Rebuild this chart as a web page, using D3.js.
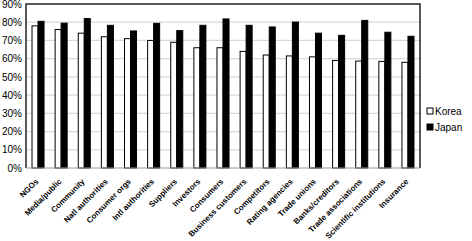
<!DOCTYPE html>
<html lang="en">
<head>
  <meta charset="UTF-8">
  <title>Korea vs Japan</title>
  <style>
    body{ margin:0; background:#fff; }
    .grid-line{ stroke:#d9d9d9; stroke-width:1.2; }
    .y-axis text{ font-family:"Liberation Sans", Arial, sans-serif; font-size:10px; fill:#000; }
    .x-axis text{ font-family:"Liberation Sans", Arial, sans-serif; font-size:8px; font-weight:bold; fill:#000; }
    .legend text{ font-family:"Liberation Sans", Arial, sans-serif; font-size:10px; fill:#000; }
  </style>
</head>
<body>
  <script src="https://cdn.jsdelivr.net/npm/d3@7"></script>
  <script>
    const categories = ['NGOs', 'Media/public', 'Community', 'Natl authorities', 'Consumer orgs',
      'Intl authorities', 'Suppliers', 'Investors', 'Consumers', 'Business customers', 'Competitors',
      'Rating agencies', 'Trade unions', 'Banks/creditors', 'Trade associations',
      'Scientific institutions', 'Insurance'];
    const series = ['Korea', 'Japan'];
    const korea = [78, 76, 74, 72, 71, 70, 69, 66, 66, 64, 62, 61.5, 61, 59, 58.7, 58.5, 58];
    const japan = [80.5, 79.5, 82, 78.3, 75.2, 79.4, 75.4, 78.3, 81.8, 78.3, 77.4, 80.1, 74, 72.8, 81, 74.5, 72.3];
    const yTicks = [0, 10, 20, 30, 40, 50, 60, 70, 80, 90];

    const width = 472, height = 241;
    const mLeft = 26, mRight = 420, mTop = 4, mBottom = 168;

    const svg = d3.select('body').append('svg')
      .attr('width', width)
      .attr('height', height);

    const y = d3.scaleLinear().domain([0, 90]).range([mBottom, mTop]);
    const x0 = d3.scaleBand().domain(categories).range([mLeft, mRight])
      .paddingInner(0.48).paddingOuter(0.26);
    const x1 = d3.scaleBand().domain(series).range([0, x0.bandwidth()]);

    // grid lines
    svg.append('g')
      .selectAll('line')
      .data(yTicks.filter(d => d > 0 && d < 90))
      .join('line')
      .attr('class', 'grid-line')
      .attr('x1', mLeft).attr('x2', mRight)
      .attr('y1', d => y(d)).attr('y2', d => y(d));

    // y axis
    const yAxis = d3.axisLeft(y).tickValues(yTicks).tickFormat(d => d + '%').tickSize(0).tickPadding(4);
    const gy = svg.append('g')
      .attr('class', 'y-axis')
      .attr('transform', `translate(${mLeft},0)`)
      .call(yAxis);
    gy.select('.domain').remove();

    // bars
    const data = categories.map((c, i) => ({ cat: c, values: [korea[i], japan[i]] }));
    const groups = svg.append('g')
      .selectAll('g')
      .data(data)
      .join('g')
      .attr('transform', d => `translate(${x0(d.cat)},0)`);
    groups.selectAll('rect')
      .data(d => d.values.map((v, j) => ({ s: series[j], v })))
      .join('rect')
      .attr('x', d => x1(d.s))
      .attr('y', d => y(d.v))
      .attr('width', x1.bandwidth())
      .attr('height', d => mBottom - y(d.v))
      .attr('fill', d => d.s === 'Korea' ? '#fff' : '#000')
      .attr('stroke', '#000')
      .attr('stroke-width', 1);

    // frame
    svg.append('path')
      .attr('d', `M${mLeft},${mBottom}V${mTop}H${mRight}V${mBottom}`)
      .attr('fill', 'none')
      .attr('stroke', '#222')
      .attr('stroke-width', 1.5);
    svg.append('line')
      .attr('x1', mLeft).attr('x2', mRight)
      .attr('y1', mBottom).attr('y2', mBottom)
      .attr('stroke', '#999')
      .attr('stroke-width', 1);

    // x axis labels
    const xAxis = d3.axisBottom(x0).tickSize(0).tickPadding(0);
    const gx = svg.append('g')
      .attr('class', 'x-axis')
      .attr('transform', `translate(0,${mBottom})`)
      .call(xAxis);
    gx.select('.domain').remove();
    gx.selectAll('.tick text')
      .attr('text-anchor', 'end')
      .attr('dy', 0)
      .attr('transform', 'translate(1,14) rotate(-45)');

    // legend
    const legend = svg.append('g')
      .attr('class', 'legend')
      .attr('transform', 'translate(427,0)');
    const li = legend.selectAll('g')
      .data(series)
      .join('g')
      .attr('transform', (d, i) => `translate(0,${108 + i * 16})`);
    li.append('rect')
      .attr('width', 6).attr('height', 6)
      .attr('fill', d => d === 'Korea' ? '#fff' : '#000')
      .attr('stroke', '#000');
    li.append('text')
      .attr('x', 8).attr('y', 6.5)
      .text(d => d);
  </script>
</body>
</html>
